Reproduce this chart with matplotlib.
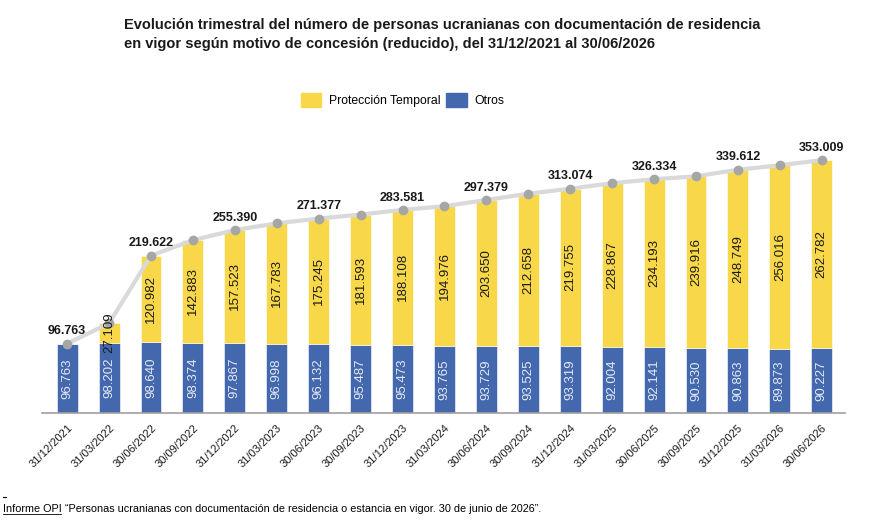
import matplotlib
matplotlib.use("Agg")
import matplotlib.pyplot as plt
from matplotlib.lines import Line2D
import numpy as np

plt.rcParams['font.family'] = ['Liberation Sans', 'DejaVu Sans']

fechas = ["31/12/2021", "31/03/2022", "30/06/2022", "30/09/2022", "31/12/2022",
          "31/03/2023", "30/06/2023", "30/09/2023", "31/12/2023", "31/03/2024",
          "30/06/2024", "30/09/2024", "31/12/2024", "31/03/2025", "30/06/2025",
          "30/09/2025", "31/12/2025", "31/03/2026", "30/06/2026"]
otros = [96763, 98202, 98640, 98374, 97867, 96998, 96132, 95487, 95473, 93765,
         93729, 93525, 93319, 92004, 92141, 90530, 90863, 89873, 90227]
proteccion = [0, 27109, 120982, 142883, 157523, 167783, 175245, 181593, 188108, 194976,
              203650, 212658, 219755, 228867, 234193, 239916, 248749, 256016, 262782]

AMARILLO = "#F8D748"
AZUL = "#4468AD"

def fmt(v):
    return f"{v:,}".replace(",", ".")

total = [o + p for o, p in zip(otros, proteccion)]
x = np.arange(len(fechas))

fig = plt.figure(figsize=(8.75, 5.25), dpi=100)
ax = fig.add_axes([0.048, 0.2133, 0.918, 0.539])

ax.bar(x, otros, width=0.5, color=AZUL, edgecolor="white", linewidth=0.4, zorder=2)
ax.bar(x, proteccion, width=0.5, bottom=otros, color=AMARILLO, edgecolor="white",
       linewidth=0.4, zorder=2)
ax.plot(x, total, color="#D9D9D9", lw=3, zorder=3)
ax.plot(x, total, ls="none", marker="o", ms=6, color="#A6A6A6", zorder=4)

for i in x:
    ax.text(i, otros[i] / 2, fmt(otros[i]), rotation=90, ha="center", va="center",
            fontsize=9.5, color="#E4E9F4", zorder=5)
    if proteccion[i] > 0:
        ax.text(i, otros[i] + proteccion[i] / 2, fmt(proteccion[i]), rotation=90,
                ha="center", va="center", fontsize=9.5, color="#1A1A1A", zorder=5)
    if i % 2 == 0:
        ax.annotate(fmt(total[i]), (i, total[i]), xytext=(0, 4.5), textcoords="offset points",
                    ha="center", va="bottom", fontsize=9, fontweight="bold",
                    color="#1A1A1A", zorder=6)

ax.set_xlim(-0.6, 18.56)
ax.set_ylim(0, 395000)
ax.set_yticks([])
for s in ["top", "right", "left"]:
    ax.spines[s].set_visible(False)
ax.spines["bottom"].set_color("#A0A0A0")
ax.spines["bottom"].set_linewidth(1.2)
ax.set_xticks(x)
ax.set_xticklabels(fechas, rotation=45, ha="right", rotation_mode="anchor",
                   fontsize=8, color="#1A1A1A")
ax.tick_params(axis="x", length=0, pad=7)

fig.text(0.142, 0.965, "Evolución trimestral del número de personas ucranianas con documentación de residencia\n"
         "en vigor según motivo de concesión (reducido), del 31/12/2021 al 30/06/2026",
         ha="left", va="top", fontsize=10.55, fontweight="bold", color="#1A1A1A", linespacing=1.45)

handles = [plt.Rectangle((0, 0), 1, 1, color=AMARILLO), plt.Rectangle((0, 0), 1, 1, color=AZUL)]
fig.legend(handles, ["Protección Temporal", "Otros"], loc="center", bbox_to_anchor=(0.46, 0.81),
           ncol=2, frameon=False, fontsize=8.8,
           handlelength=1.7, handleheight=1.4, columnspacing=0.5, handletextpad=0.6)

fig.add_artist(Line2D([0.003, 0.007], [0.053, 0.053], color="black", lw=0.8))
t1 = fig.text(0.003, 0.025, "Informe OPI", ha="left", va="baseline", fontsize=7.8)
fig.canvas.draw()
bb = t1.get_window_extent().transformed(fig.transFigure.inverted())
fig.add_artist(Line2D([bb.x0, bb.x1], [0.021, 0.021], color="black", lw=0.6))
fig.text(bb.x1 + 0.004, 0.025,
         "\u201cPersonas ucranianas con documentación de residencia o estancia en vigor. 30 de junio de 2026\u201d.",
         ha="left", va="baseline", fontsize=7.8)

fig.savefig("out.png", dpi=100, facecolor="white")
